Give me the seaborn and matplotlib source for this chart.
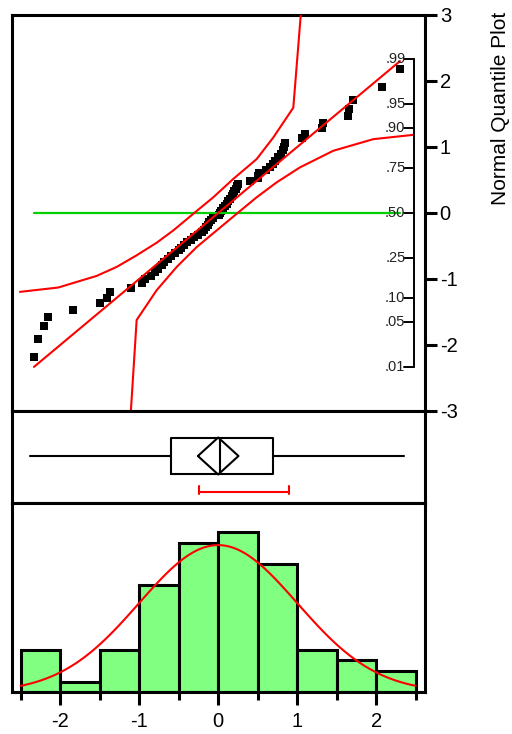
import numpy as np
import pandas as pd
import matplotlib
matplotlib.use("Agg")
import matplotlib.pyplot as plt
import seaborn as sns
from statistics import NormalDist

# ---------------- data ----------------
values = [-2.332, -2.285, -2.205, -2.154, -1.834, -1.490, -1.408, -1.373, -1.104,
          -0.968, -0.927, -0.851, -0.800, -0.762, -0.711, -0.686, -0.635, -0.597, -0.547,
          -0.496, -0.471, -0.427, -0.389, -0.344, -0.300, -0.256, -0.209, -0.180, -0.154,
          -0.135, -0.116, -0.091, -0.066,
          0.005, 0.025, 0.042, 0.061, 0.086, 0.111, 0.130, 0.149, 0.175, 0.187, 0.200,
          0.225, 0.244, 0.257, 0.400,
          0.504, 0.510, 0.523, 0.605, 0.656, 0.694, 0.719, 0.761, 0.795, 0.824, 0.833, 0.846,
          1.057, 1.099, 1.310, 1.323,
          1.640, 1.655, 1.703,
          2.070, 2.301]
bin_edges = [-2.5, -2.0, -1.5, -1.0, -0.5, 0.0, 0.5, 1.0, 1.5, 2.0, 2.5]
bin_counts = [4, 1, 4, 10, 14, 15, 12, 4, 3, 2]
fit_mean = 0.0
fit_sd = 1.0
box_q1, box_median, box_q3 = -0.60, 0.025, 0.695
whisker_lo, whisker_hi = -2.38, 2.35
mean_ci_lo, mean_ci_hi = -0.257, 0.257
shortest_half_lo, shortest_half_hi = -0.245, 0.893
upper_band_x = [-2.509, -2.024, -1.538, -1.285, -1.032, -0.778, -0.568, -0.315, -0.062,
                0.191, 0.487, 0.697, 0.951, 1.044, 1.066]
upper_band_y = [-1.195, -1.129, -0.953, -0.817, -0.641, -0.450, -0.264, -0.012, 0.238,
                0.516, 0.817, 1.143, 1.596, 2.980, 3.300]
lower_band_x = [-1.121, -1.104, -1.032, -0.778, -0.525, -0.272, -0.019, 0.234, 0.487,
                0.741, 1.035, 1.457, 1.964, 2.470]
lower_band_y = [-3.300, -2.979, -1.621, -1.169, -0.817, -0.516, -0.264, -0.012, 0.238,
                0.465, 0.691, 0.943, 1.119, 1.184]
prob_ticks = [0.01, 0.05, 0.10, 0.25, 0.50, 0.75, 0.90, 0.95, 0.99]
prob_labels = [".01", ".05", ".10", ".25", ".50", ".75", ".90", ".95", ".99"]
quantile_ticks = [-3, -2, -1, 0, 1, 2, 3]
x_major_ticks = [-2, -1, 0, 1, 2]
x_minor_ticks = [-2.5, -1.5, -0.5, 0.5, 1.5, 2.5]
title_text = "Normal Quantile Plot"

# ---------------- style ----------------
sns.set_style("white")
plt.rcParams["font.family"] = ["Liberation Sans", "DejaVu Sans"]
plt.rcParams["axes.unicode_minus"] = False

RED = "#FF0000"
GREEN = "#00D000"
FILL = "#80FF80"
SPINE_LW = 2.2

nd = NormalDist()
n = len(values)
vals = np.sort(np.array(values))
qscores = np.array([nd.inv_cdf((i + 1) / (n + 1)) for i in range(n)])
df_pts = pd.DataFrame({"x": vals, "q": qscores})

fig = plt.figure(figsize=(5.12, 7.34), dpi=100)
L, W = 12.3 / 512, (425 - 12.3) / 512
axq = fig.add_axes([L, (734 - 411) / 734, W, 396 / 734])
axb = fig.add_axes([L, (734 - 503) / 734, W, 92 / 734], sharex=axq)
axh = fig.add_axes([L, (734 - 692.3) / 734, W, (692.3 - 503) / 734], sharex=axq)
xlim = (-2.606, 2.618)

for ax in (axq, axb, axh):
    for s in ax.spines.values():
        s.set_linewidth(SPINE_LW)
        s.set_color("black")
        s.set_visible(True)
    ax.set_facecolor("white")

# ---------------- quantile plot ----------------
sns.scatterplot(data=df_pts, x="x", y="q", marker="s", color="black", s=28,
                linewidth=0, ax=axq, zorder=3)
xr = np.array([vals.min(), vals.max()])
sns.lineplot(x=xr, y=[0, 0], color=GREEN, lw=1.6, ax=axq, zorder=4)
sns.lineplot(x=xr, y=(xr - fit_mean) / fit_sd, color=RED, lw=1.5, ax=axq, zorder=5)
sns.lineplot(x=upper_band_x, y=upper_band_y, sort=False, estimator=None, color=RED,
             lw=1.5, ax=axq, zorder=5)
sns.lineplot(x=lower_band_x, y=lower_band_y, sort=False, estimator=None, color=RED,
             lw=1.5, ax=axq, zorder=5)
axq.set_ylim(-3, 3)
axq.set_xlim(*xlim)
axq.yaxis.tick_right()
axq.set_yticks(quantile_ticks)
axq.set_yticklabels([str(t) for t in quantile_ticks])
axq.tick_params(axis="y", which="major", right=True, left=False, length=8.6,
                width=SPINE_LW, labelsize=14.5, pad=2, colors="black")
axq.tick_params(axis="x", bottom=False, labelbottom=False)
axq.set_xlabel("")
axq.set_ylabel("")

# probability axis inside the plot
px_axis = 2.478
px_tick0 = 2.356
pq = [nd.inv_cdf(p) for p in prob_ticks]
axq.plot([px_axis, px_axis], [pq[0], pq[-1]], color="black", lw=1.4, zorder=6)
for q, lab in zip(pq, prob_labels):
    axq.plot([px_tick0, px_axis], [q, q], color="black", lw=1.4, zorder=6)
    axq.text(px_tick0 + 0.015, q, lab, ha="right", va="center", fontsize=10.5,
             color="#222222", zorder=6)

fig.text(500 / 512, 1 - 108.5 / 734, title_text, rotation=90, ha="center",
         va="center", fontsize=15, color="black")

# ---------------- box plot ----------------
stats = [dict(med=box_median, q1=box_q1, q3=box_q3, whislo=whisker_lo,
              whishi=whisker_hi, fliers=[])]
bxp_kw = dict(positions=[0], widths=36, showcaps=False, showfliers=False,
              boxprops=dict(color="black", linewidth=1.5),
              whiskerprops=dict(color="black", linewidth=1.5),
              medianprops=dict(color="black", linewidth=1.5))
try:
    axb.bxp(stats, orientation="horizontal", **bxp_kw)
except TypeError:
    axb.bxp(stats, vert=False, **bxp_kw)
axb.plot([mean_ci_lo, fit_mean, mean_ci_hi, fit_mean, mean_ci_lo],
         [0, 18.5, 0, -18.5, 0], color="black", lw=1.5)
axb.plot([shortest_half_lo, shortest_half_hi], [-35.7, -35.7], color=RED, lw=1.5)
axb.plot([shortest_half_lo, shortest_half_lo], [-37.5, -30], color=RED, lw=1.5)
axb.plot([shortest_half_hi, shortest_half_hi], [-37.5, -30], color=RED, lw=1.5)
axb.set_ylim(-47, 45)
axb.set_xlim(*xlim)
axb.set_yticks([])
axb.tick_params(axis="x", bottom=False, labelbottom=False)
axb.tick_params(axis="y", left=False, right=False, labelleft=False)

# ---------------- histogram ----------------
centers = [(a + b) / 2 for a, b in zip(bin_edges[:-1], bin_edges[1:])]
sns.histplot(x=centers, weights=bin_counts, bins=bin_edges, stat="count",
             color=FILL, edgecolor="black", linewidth=SPINE_LW, alpha=1, ax=axh)
binw = bin_edges[1] - bin_edges[0]
xc = np.linspace(bin_edges[0], bin_edges[-1], 121)
yc = n * binw * np.array([NormalDist(fit_mean, fit_sd).pdf(v) for v in xc])
sns.lineplot(x=xc, y=yc, color=RED, lw=1.5, ax=axh, zorder=5)
axh.set_ylim(0, 17.7)
axh.set_xlim(*xlim)
axh.set_yticks([])
axh.set_xticks(x_major_ticks)
axh.set_xticklabels([str(t) for t in x_major_ticks])
axh.set_xticks(x_minor_ticks, minor=True)
axh.tick_params(axis="x", which="major", bottom=True, length=9.4, width=SPINE_LW,
                labelsize=14.5, pad=4.5, colors="black")
axh.tick_params(axis="x", which="minor", bottom=True, length=6, width=SPINE_LW,
                colors="black")
axh.tick_params(axis="y", left=False, labelleft=False)
axh.set_xlabel("")
axh.set_ylabel("")
axq.set_xlim(*xlim)

fig.savefig("out.png", dpi=100)
